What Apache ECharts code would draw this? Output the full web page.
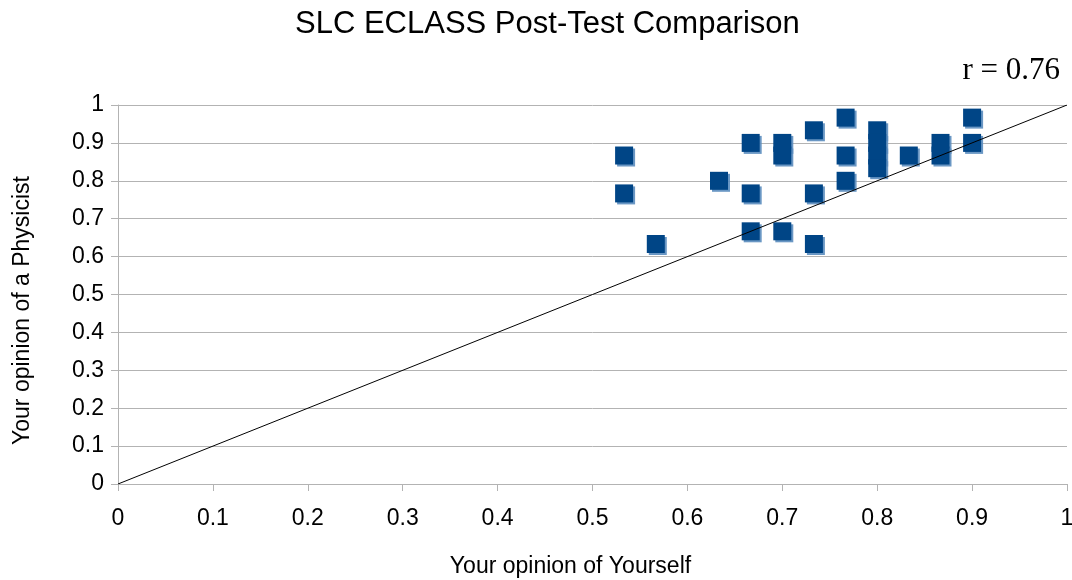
<!DOCTYPE html>
<html>
<head>
<meta charset="utf-8">
<script src="https://cdn.jsdelivr.net/npm/echarts@6/dist/echarts.min.js"></script>
<style>
html,body{margin:0;padding:0;background:#fff;}
#main{width:1072px;height:580px;}
</style>
</head>
<body>
<div id="main"></div>
<script>
// opinion of yourself (x) / opinion of a physicist (y)
var selfScores = [0.5333, 0.5333, 0.5667, 0.6333, 0.6667, 0.6667, 0.6667, 0.7, 0.7, 0.7,
    0.7333, 0.7333, 0.7333, 0.7667, 0.7667, 0.7667, 0.8, 0.8, 0.8, 0.8, 0.8333, 0.8667, 0.8667, 0.9, 0.9];
var physScores = [0.8667, 0.7667, 0.6333, 0.8, 0.9, 0.7667, 0.6667, 0.9, 0.8667, 0.6667,
    0.9333, 0.7667, 0.6333, 0.9667, 0.8667, 0.8, 0.9333, 0.9, 0.8667, 0.8333, 0.8667, 0.9, 0.8667, 0.9667, 0.9];
var refLine = [[0, 0], [1, 1]];
var corrText = 'r = 0.76';

var points = [];
for (var i = 0; i < selfScores.length; i++) {
    points.push([selfScores[i], physScores[i]]);
}

var myChart = echarts.init(document.getElementById('main'));
var option = {
    animation: false,
    title: {
        text: 'SLC ECLASS Post-Test Comparison',
        left: 290,
        top: 4,
        textStyle: {fontFamily: 'Liberation Sans', fontSize: 31, fontWeight: 'normal', color: '#000'}
    },
    graphic: [{
        type: 'text',
        right: 12,
        top: 55,
        style: {text: corrText, font: '31px "Liberation Serif"', fill: '#000'}
    }],
    grid: {left: 118, right: 5, top: 105, bottom: 96, outerBoundsMode: 'none'},
    xAxis: {
        type: 'value', min: 0, max: 1, interval: 0.1,
        name: 'Your opinion of Yourself',
        nameLocation: 'middle', nameGap: 71,
        nameTextStyle: {fontFamily: 'Liberation Sans', fontSize: 23, color: '#000', padding: [0, 44, 0, 0]},
        axisLine: {lineStyle: {color: '#b3b3b3', width: 1}},
        axisTick: {show: true, length: 7, lineStyle: {color: '#b3b3b3'}},
        splitLine: {show: false},
        axisLabel: {fontFamily: 'Liberation Sans', fontSize: 23, color: '#000', margin: 23}
    },
    yAxis: {
        type: 'value', min: 0, max: 1, interval: 0.1,
        name: 'Your opinion of a Physicist',
        nameLocation: 'middle', nameGap: 84,
        nameTextStyle: {fontFamily: 'Liberation Sans', fontSize: 23, color: '#000', padding: [0, 32, 0, 0]},
        axisLine: {show: true, lineStyle: {color: '#b3b3b3', width: 1}},
        axisTick: {show: true, length: 7, lineStyle: {color: '#b3b3b3'}},
        splitLine: {lineStyle: {color: '#b3b3b3', width: 1}},
        axisLabel: {fontFamily: 'Liberation Sans', fontSize: 23, color: '#000', margin: 14}
    },
    series: [{
        type: 'line',
        data: refLine,
        symbol: 'none',
        lineStyle: {color: '#000', width: 1},
        z: 3
    }, {
        type: 'scatter',
        data: points,
        symbol: 'rect',
        symbolSize: 18,
        itemStyle: {
            color: '#004586',
            opacity: 1,
            shadowColor: 'rgba(90,140,190,0.9)',
            shadowOffsetX: 2,
            shadowOffsetY: 2,
            shadowBlur: 0
        },
        z: 2
    }]
};
myChart.setOption(option);
</script>
</body>
</html>
